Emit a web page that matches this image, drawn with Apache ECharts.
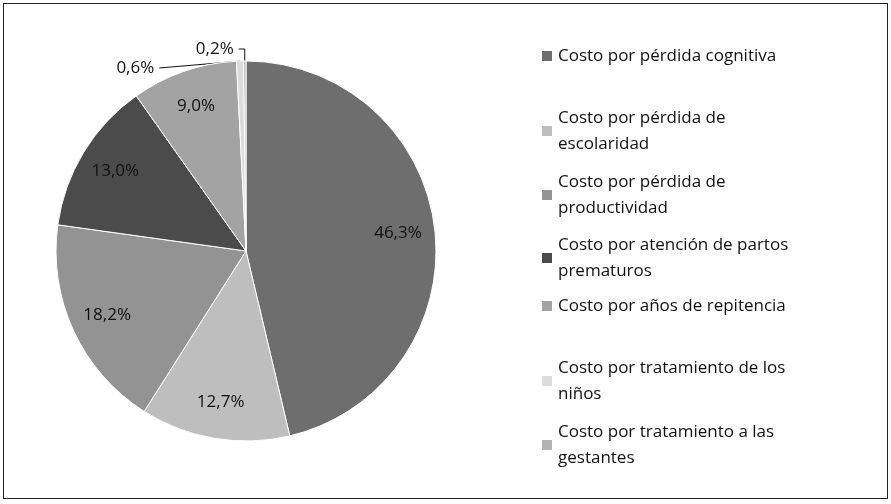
<!DOCTYPE html>
<html>
<head>
<meta charset="utf-8">
<script src="https://cdn.jsdelivr.net/npm/echarts@6/dist/echarts.min.js"></script>
<style>
html, body { margin: 0; padding: 0; background: #fff; }
#container { position: absolute; left: 3px; top: 3px; width: 883px; height: 494px; border: 1px solid #222; }
</style>
</head>
<body>
<div id="container"></div>
<script>
var names = [
    'Costo por pérdida cognitiva',
    'Costo por pérdida de\nescolaridad',
    'Costo por pérdida de\nproductividad',
    'Costo por atención de partos\nprematuros',
    'Costo por años de repitencia',
    'Costo por tratamiento de los\nniños',
    'Costo por tratamiento a las\ngestantes'
];
var values = [46.3, 12.7, 18.2, 13.0, 9.0, 0.6, 0.2];
var colors = ['#6e6e6e', '#bebebe', '#939393', '#4b4b4b', '#a3a3a3', '#dcdcdc', '#b3b3b3'];

var dom = document.getElementById('container');
var myChart = echarts.init(dom);

function fmt(v) { return v.toFixed(1).replace('.', ',') + '%'; }

var pieData = [];
for (var i = 0; i < names.length; i++) {
    pieData.push({ name: names[i], value: values[i], itemStyle: { color: colors[i] } });
}

// legend tops (first text line centre), one legend per entry
var legendTops = [47, 122, 186, 249, 297, 372, 436];
var legends = [];
for (var j = 0; j < names.length; j++) {
    var lines = names[j].split('\n').length;
    legends.push({
        data: [names[j]],
        left: 531,
        top: legendTops[j] - 13 - (lines - 1) * 13,
        itemWidth: 12,
        itemHeight: 12,
        icon: 'rect',
        selectedMode: false,
        textStyle: { fontFamily: 'Open Sans', fontSize: 17, color: '#111', lineHeight: 26 }
    });
}

var option = {
    animation: false,
    legend: legends,
    series: [
        {
            type: 'pie',
            center: [242, 247],
            radius: [0, 190],
            startAngle: 90,
            clockwise: true,
            data: pieData.map(function (d, k) {
                return {
                    name: d.name, value: d.value, itemStyle: d.itemStyle,
                    label: { show: k >= 5 },
                    labelLine: { show: k >= 5 }
                };
            }),
            itemStyle: { borderColor: '#fff', borderWidth: 1 },
            label: {
                position: 'outside',
                formatter: function (p) { return fmt(p.value); },
                fontFamily: 'Open Sans', fontSize: 17, color: '#111'
            },
            labelLine: { length: 12, length2: 6, lineStyle: { color: '#111', width: 1 } }
        },
        {
            type: 'pie',
            center: [242, 247],
            radius: [0, 300],
            startAngle: 90,
            clockwise: true,
            silent: true,
            legendHoverLink: false,
            data: pieData.map(function (d, k) {
                return {
                    name: d.name, value: d.value,
                    itemStyle: { color: 'rgba(0,0,0,0)' },
                    label: { show: k < 5 }
                };
            }),
            label: {
                position: 'inside',
                formatter: function (p) { return fmt(p.value); },
                fontFamily: 'Open Sans', fontSize: 17, color: '#111'
            },
            labelLine: { show: false }
        }
    ]
};
myChart.setOption(option);
</script>
</body>
</html>
